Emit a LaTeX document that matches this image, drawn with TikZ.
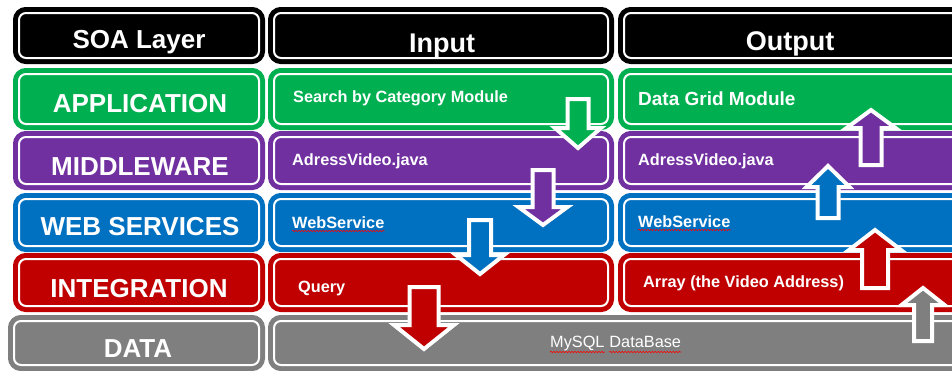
\documentclass[tikz,border=0pt]{standalone}
\usepackage{fontspec}
\setmainfont{Liberation Sans}
\usetikzlibrary{shadows,decorations.pathmorphing}
\definecolor{cgreen}{HTML}{00B050}
\definecolor{cpurple}{HTML}{7030A0}
\definecolor{cblue}{HTML}{0070C0}
\definecolor{cred}{HTML}{C00000}
\definecolor{cgray}{HTML}{7F7F7F}
\tikzset{
  layerbox/.style={rectangle, rounded corners=7pt, draw=#1, fill=#1, line width=5pt,
    double=white, double distance=2pt, inner sep=0pt},
  bigtxt/.style={text=white, font=\bfseries\fontsize{26}{30}\selectfont, inner sep=0pt, anchor=base},
  headtxt/.style={text=white, font=\bfseries\fontsize{27}{31}\selectfont, inner sep=0pt, anchor=base},
  smtxt/.style={text=white, font=\bfseries\fontsize{16.3}{19}\selectfont, inner sep=0pt, anchor=base west},
  regtxt/.style={text=white, font=\fontsize{16.3}{19}\selectfont, inner sep=0pt, anchor=base west},
  blockarrow/.style={draw=white, line width=4pt, line join=miter,
    drop shadow={shadow xshift=1.5pt, shadow yshift=-1.5pt, fill=black, opacity=0.3}},
  squiggle/.style={draw=red, line width=0.6pt, decorate,
    decoration={snake, amplitude=0.7pt, segment length=3pt}}
}
% #1 colour, #2 centre x, #3 tail end y, #4 head base y, #5 tip y, #6 shaft half width, #7 head half width
\newcommand\blockarr[7]{%
  \path[blockarrow, fill=#1] ({#2-#6},#3) -- ({#2+#6},#3) -- ({#2+#6},#4) -- ({#2+#7},#4)
    -- (#2,#5) -- ({#2-#7},#4) -- ({#2-#6},#4) -- cycle;}
\begin{document}
\begin{tikzpicture}[x=1pt, y=-1pt]
\useasboundingbox (0,0) rectangle (952,370);
\clip (0,0) rectangle (952,370);
% header row
\node[layerbox=black, minimum width=240pt, minimum height=45pt] (hL) at (139,35.5) {};
\node[layerbox=black, minimum width=334pt, minimum height=45pt] (hI) at (441,35.5) {};
\node[layerbox=black, minimum width=340pt, minimum height=45pt] (hO) at (794,35.5) {};
% application
\node[layerbox=cgreen, minimum width=240pt, minimum height=50pt] (aL) at (139,99) {};
\node[layerbox=cgreen, minimum width=334pt, minimum height=50pt] (aI) at (441,99) {};
\node[layerbox=cgreen, minimum width=340pt, minimum height=50pt] (aO) at (794,99) {};
% middleware
\node[layerbox=cpurple, minimum width=240pt, minimum height=47pt] (mL) at (139,160.5) {};
\node[layerbox=cpurple, minimum width=334pt, minimum height=47pt] (mI) at (441,160.5) {};
\node[layerbox=cpurple, minimum width=340pt, minimum height=47pt] (mO) at (794,160.5) {};
% web services
\node[layerbox=cblue, minimum width=240pt, minimum height=47pt] (wL) at (139,222.5) {};
\node[layerbox=cblue, minimum width=334pt, minimum height=47pt] (wI) at (441,222.5) {};
\node[layerbox=cblue, minimum width=340pt, minimum height=47pt] (wO) at (794,222.5) {};
% integration
\node[layerbox=cred, minimum width=240pt, minimum height=47pt] (iL) at (139,282.5) {};
\node[layerbox=cred, minimum width=334pt, minimum height=47pt] (iI) at (441,282.5) {};
\node[layerbox=cred, minimum width=340pt, minimum height=47pt] (iO) at (794,282.5) {};
% data
\node[layerbox=cgray, minimum width=245pt, minimum height=44pt] (dL) at (136.5,343) {};
\node[layerbox=cgray, minimum width=690pt, minimum height=44pt] (dR) at (619,343) {};

% labels
\node[bigtxt] (tSOA) at (139,48) {SOA Layer};
\node[headtxt] (tIn) at (442,52) {Input};
\node[headtxt] (tOut) at (790,50) {Output};
\node[bigtxt] (tApp) at (140,112) {APPLICATION};
\node[bigtxt] (tMid) at (140,175) {MIDDLEWARE};
\node[bigtxt] (tWeb) at (140,235) {WEB SERVICES};
\node[bigtxt] (tInt) at (139,297) {INTEGRATION};
\node[bigtxt] (tData) at (138,357) {DATA};

\node[smtxt] (sIn1) at (293,102) {Search by Category Module};
\node[smtxt, font=\bfseries\fontsize{19}{22}\selectfont] (sOut1) at (638,105) {Data Grid Module};
\node[smtxt] (sIn2) at (292,165) {AdressVideo.java};
\node[smtxt] (sOut2) at (638,165) {AdressVideo.java};
\node[smtxt] (sIn3) at (292,228) {WebService};
\node[smtxt] (sOut3) at (638,227) {WebService};
\node[smtxt] (sIn4) at (298,292) {Query};
\node[smtxt] (sOut4) at (643,287) {Array (the Video Address)};
\node[regtxt] (sDb1) at (550,347) {MySQL};
\node[regtxt, anchor=base west] (sDb2) at ([xshift=4.5pt]sDb1.base east) {DataBase};

% spell-check underlines
\draw[squiggle] ([yshift=-3pt]sIn3.base west) -- ([yshift=-3pt]sIn3.base east);
\draw[squiggle] ([yshift=-3pt]sOut3.base west) -- ([yshift=-3pt]sOut3.base east);
\draw[squiggle] ([yshift=-5pt]sDb1.base west) -- ([yshift=-5pt]sDb1.base east);
\draw[squiggle] ([yshift=-5pt]sDb2.base west) -- ([yshift=-5pt]sDb2.base east);

% down arrows (input side)
\blockarr{cgreen}{578}{99}{128}{148}{10.5}{23}
\blockarr{cpurple}{543}{170}{207}{225}{10.5}{24.5}
\blockarr{cblue}{480}{220}{255}{274}{11}{24}
\blockarr{cred}{424}{287}{325}{349}{14.5}{30}
% up arrows (output side)
\blockarr{cpurple}{871}{165}{128}{110}{10.5}{24.5}
\blockarr{cblue}{828}{218}{187}{166}{10.5}{21.5}
\blockarr{cred}{875}{288}{250}{230}{13}{26}
\blockarr{cgray}{923}{341}{305}{288}{9}{21.5}
\end{tikzpicture}
\end{document}
